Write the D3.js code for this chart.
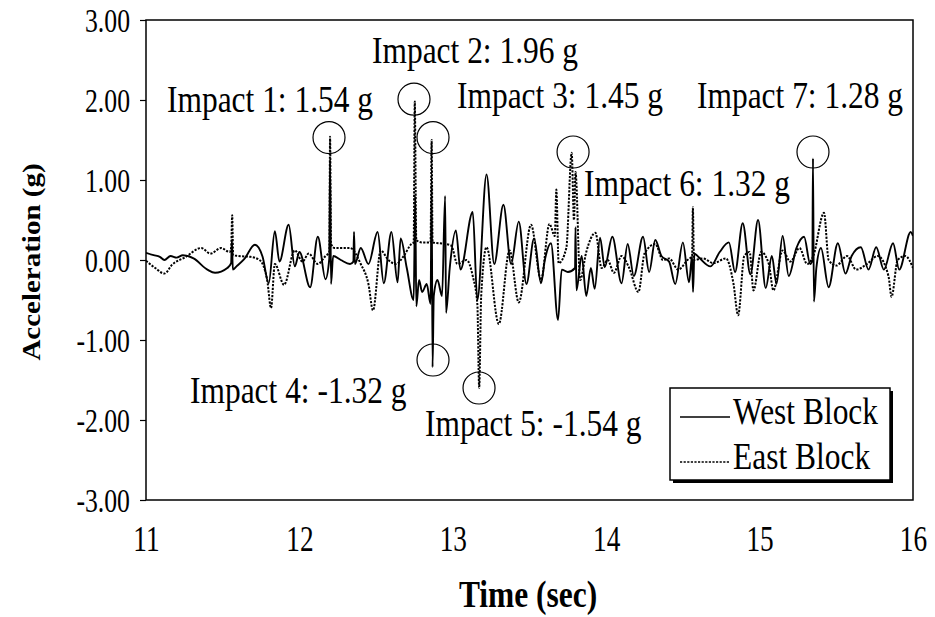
<!DOCTYPE html>
<html>
<head>
<meta charset="utf-8">
<script src="https://cdn.jsdelivr.net/npm/d3@7"></script>
<style>
  body { margin: 0; background: #fff; }
  text { font-family: "Liberation Serif", "Times New Roman", serif; fill: #000; }
</style>
</head>
<body>
<div id="chart-area"></div>
<script>
// [time (sec), acceleration (g)]
const westBlock = [
  [11.00,0.09],[11.05,0.06],[11.09,0.04],[11.12,0.00],[11.16,0.05],[11.20,0.03],[11.24,0.06],[11.31,0.02],
  [11.40,-0.12],[11.45,-0.16],[11.53,-0.10],[11.555,-0.04],[11.560,0.25],[11.566,-0.12],[11.59,-0.08],
  [11.64,0.01],[11.71,0.19],[11.76,0.04],[11.80,-0.29],[11.84,0.36],[11.87,-0.02],[11.93,0.44],[11.97,-0.08],
  [12.00,0.10],[12.07,-0.34],[12.12,0.29],[12.17,-0.24],[12.195,0.02],[12.200,1.25],[12.206,-0.30],
  [12.22,0.05],[12.27,0.00],[12.33,-0.05],[12.352,-0.02],[12.356,0.35],[12.362,-0.05],[12.40,0.15],
  [12.45,-0.05],[12.51,0.35],[12.55,-0.29],[12.60,0.35],[12.64,-0.28],[12.66,0.27],[12.70,-0.10],
  [12.745,-0.50],[12.755,0.80],[12.762,-0.58],[12.78,-0.25],[12.80,-0.40],[12.83,-0.30],[12.855,-0.55],
  [12.862,0.95],[12.868,-1.34],[12.876,-0.45],[12.90,-0.25],[12.93,-0.45],[12.95,0.80],[12.956,-0.66],
  [12.98,-0.10],[13.02,0.37],[13.05,-0.12],[13.13,0.60],[13.16,-0.50],[13.22,1.07],[13.27,-0.05],
  [13.33,0.69],[13.38,-0.05],[13.43,0.48],[13.48,-0.30],[13.53,0.27],[13.575,-0.29],[13.60,0.00],
  [13.64,0.21],[13.686,-0.75],[13.71,-0.12],[13.75,-0.15],[13.797,-0.10],[13.80,0.41],[13.806,-0.38],
  [13.84,0.05],[13.87,-0.45],[13.90,-0.10],[13.925,-0.36],[13.96,0.28],[13.99,-0.09],[14.04,0.29],
  [14.10,-0.29],[14.14,0.20],[14.18,-0.20],[14.24,0.29],[14.28,-0.15],[14.32,0.25],[14.36,0.05],
  [14.41,-0.02],[14.45,-0.30],[14.50,0.22],[14.54,-0.28],[14.56,0.05],[14.566,-0.40],[14.575,0.08],
  [14.60,0.04],[14.68,-0.08],[14.74,0.10],[14.80,0.22],[14.84,-0.15],[14.89,0.46],[14.94,-0.18],
  [14.99,0.50],[15.04,-0.35],[15.08,0.05],[15.11,-0.30],[15.15,0.30],[15.19,-0.20],[15.24,0.15],
  [15.29,0.29],[15.33,-0.05],[15.344,0.00],[15.348,1.27],[15.354,-0.52],[15.37,-0.10],[15.40,0.15],
  [15.45,-0.34],[15.51,0.21],[15.56,-0.17],[15.60,0.05],[15.66,0.16],[15.71,-0.12],[15.76,0.16],
  [15.81,-0.12],[15.87,0.21],[15.91,-0.12],[15.985,0.35],[16.00,0.30]
];

const eastBlock = [
  [11.00,-0.01],[11.06,-0.10],[11.12,-0.17],[11.17,-0.06],[11.26,0.04],[11.36,0.15],[11.42,0.08],
  [11.49,0.15],[11.545,0.10],[11.555,0.15],[11.562,0.56],[11.568,0.06],[11.60,0.05],[11.68,0.04],
  [11.74,0.00],[11.79,-0.25],[11.815,-0.60],[11.84,-0.05],[11.90,-0.31],[11.97,0.12],[12.02,-0.02],
  [12.06,0.08],[12.12,-0.05],[12.17,0.05],[12.195,0.10],[12.200,1.54],[12.206,0.20],[12.23,0.15],
  [12.33,0.15],[12.40,-0.05],[12.45,-0.30],[12.48,-0.63],[12.53,0.12],[12.58,0.00],[12.63,-0.05],
  [12.68,0.05],[12.73,0.20],[12.745,0.22],[12.752,1.98],[12.762,0.25],[12.80,0.22],[12.855,0.22],
  [12.862,1.50],[12.868,0.22],[12.95,0.20],[12.99,0.18],[13.03,-0.05],[13.09,0.00],[13.13,-0.20],
  [13.16,-0.55],[13.172,-1.60],[13.185,-0.45],[13.22,0.16],[13.30,-0.80],[13.37,0.12],[13.43,-0.53],
  [13.51,0.44],[13.575,-0.25],[13.63,0.45],[13.665,0.30],[13.675,0.88],[13.69,-0.04],[13.74,0.15],
  [13.775,1.34],[13.79,0.50],[13.80,1.10],[13.83,-0.25],[13.87,0.10],[13.93,0.34],[13.97,-0.10],
  [14.01,0.00],[14.05,-0.16],[14.10,0.05],[14.15,-0.10],[14.21,-0.40],[14.25,0.08],[14.32,0.20],
  [14.37,0.00],[14.41,0.02],[14.47,-0.12],[14.53,0.00],[14.56,0.05],[14.565,0.66],[14.572,0.00],
  [14.63,0.02],[14.70,-0.04],[14.78,0.02],[14.83,-0.30],[14.86,-0.69],[14.90,0.05],[14.935,0.10],
  [14.96,-0.38],[15.01,0.10],[15.06,-0.05],[15.09,-0.38],[15.15,0.12],[15.20,-0.02],[15.26,0.15],
  [15.31,-0.05],[15.35,0.05],[15.42,0.59],[15.45,0.00],[15.50,-0.07],[15.57,0.05],[15.63,-0.12],
  [15.70,-0.05],[15.77,0.05],[15.84,-0.20],[15.86,-0.46],[15.90,0.00],[15.95,0.05],[16.00,-0.10]
];

const yTicks = [-3, -2, -1, 0, 1, 2, 3];
const xTicks = [11, 12, 13, 14, 15, 16];

const impactLabels = ["Impact 1: 1.54 g", "Impact 2: 1.96 g", "Impact 3: 1.45 g", "Impact 4: -1.32 g",
                      "Impact 5: -1.54 g", "Impact 6: 1.32 g", "Impact 7: 1.28 g"];
const impactTime = [12.193, 12.747, 12.871, 12.871, 13.171, 13.784, 15.348];
const impactPeak = [1.53, 2.01, 1.53, -1.25, -1.60, 1.35, 1.35];

// label placement in pixels: left edge, baseline
const labelPos = [[167, 112], [372, 63], [457, 108], [190, 403], [425, 436], [584, 196], [697, 108]];

const W = 935, H = 617;
const plot = {left: 146, right: 913, top: 20, bottom: 500};
const sx = 0.85;   // the original type is a little narrow
const tsx = 0.78;  // tick labels even more so

const svg = d3.select("#chart-area").append("svg")
    .attr("width", W).attr("height", H);

const x = d3.scaleLinear().domain([11, 16]).range([plot.left, plot.right]);
const y = d3.scaleLinear().domain([-3, 3]).range([plot.bottom, plot.top]);

svg.append("clipPath").attr("id", "clip")
  .append("rect")
    .attr("x", plot.left).attr("y", plot.top)
    .attr("width", plot.right - plot.left).attr("height", plot.bottom - plot.top);

const line = d3.line()
    .x(d => x(d[0]))
    .y(d => y(d[1]))
    .curve(d3.curveMonotoneX);

const lines = svg.append("g").attr("clip-path", "url(#clip)");
lines.append("path")
    .datum(westBlock)
    .attr("fill", "none")
    .attr("stroke", "#000")
    .attr("stroke-width", 1.9)
    .attr("d", line);
lines.append("path")
    .datum(eastBlock)
    .attr("fill", "none")
    .attr("stroke", "#000")
    .attr("stroke-width", 2)
    .attr("stroke-dasharray", "2.2,1.4")
    .attr("d", line);

// y axis
const yAxis = svg.append("g")
    .attr("transform", `translate(${plot.left},0)`)
    .call(d3.axisLeft(y).tickValues(yTicks).tickSize(6).tickFormat(d => d.toFixed(2)));
yAxis.select(".domain").remove();
yAxis.selectAll("line").attr("stroke", "#000").attr("stroke-width", 1.2);
yAxis.selectAll("text")
    .attr("x", null).attr("dy", "0.34em")
    .attr("transform", `translate(-16,0) scale(${tsx},1)`)
    .attr("font-size", "33px")
    .attr("font-family", null);

// x axis
const xAxis = svg.append("g")
    .attr("transform", `translate(0,${plot.bottom})`)
    .call(d3.axisBottom(x).tickValues(xTicks).tickSize(0).tickFormat(d3.format("d")));
xAxis.select(".domain").remove();
xAxis.selectAll("text")
    .attr("y", null).attr("dy", null)
    .attr("transform", `translate(0,51) scale(${tsx},1)`)
    .attr("font-size", "35px")
    .attr("font-family", null);

// frame
svg.append("rect")
    .attr("x", plot.left).attr("y", plot.top)
    .attr("width", plot.right - plot.left).attr("height", plot.bottom - plot.top)
    .attr("fill", "none").attr("stroke", "#000").attr("stroke-width", 1.5);

// axis titles
svg.append("text")
    .attr("transform", `translate(528,607) scale(${sx},1)`)
    .attr("text-anchor", "middle")
    .attr("font-size", "37px")
    .attr("font-weight", "bold")
    .text("Time (sec)");
svg.append("text")
    .attr("transform", `translate(40,262) rotate(-90) scale(1,0.85)`)
    .attr("text-anchor", "middle")
    .attr("font-size", "29px")
    .attr("font-weight", "bold")
    .text("Acceleration (g)");

// impact circles and labels
svg.append("g").selectAll("circle")
  .data(impactTime)
  .join("circle")
    .attr("cx", d => x(d))
    .attr("cy", (d, i) => y(impactPeak[i]))
    .attr("r", 16)
    .attr("fill", "none")
    .attr("stroke", "#000")
    .attr("stroke-width", 1.2);

svg.append("g").selectAll("text")
  .data(impactLabels)
  .join("text")
    .attr("transform", (d, i) => `translate(${labelPos[i][0]},${labelPos[i][1]}) scale(${sx},1)`)
    .attr("font-size", "37px")
    .text(d => d);

// legend
const legend = svg.append("g").attr("transform", "translate(670,388)");
legend.append("rect")
    .attr("x", 3).attr("y", 3).attr("width", 220).attr("height", 92)
    .attr("fill", "#000");
legend.append("rect")
    .attr("width", 220).attr("height", 92)
    .attr("fill", "#fff").attr("stroke", "#000").attr("stroke-width", 1.5);
const legendItems = [["West Block", null], ["East Block", "2.2,1.4"]];
legendItems.forEach((item, i) => {
  const yy = 29 + i * 45;
  legend.append("line")
      .attr("x1", 10).attr("x2", 60).attr("y1", yy).attr("y2", yy)
      .attr("stroke", "#000").attr("stroke-width", 1.6)
      .attr("stroke-dasharray", item[1]);
  legend.append("text")
      .attr("transform", `translate(63,${yy + 7}) scale(${sx},1)`)
      .attr("font-size", "37px")
      .text(item[0]);
});
</script>
</body>
</html>
